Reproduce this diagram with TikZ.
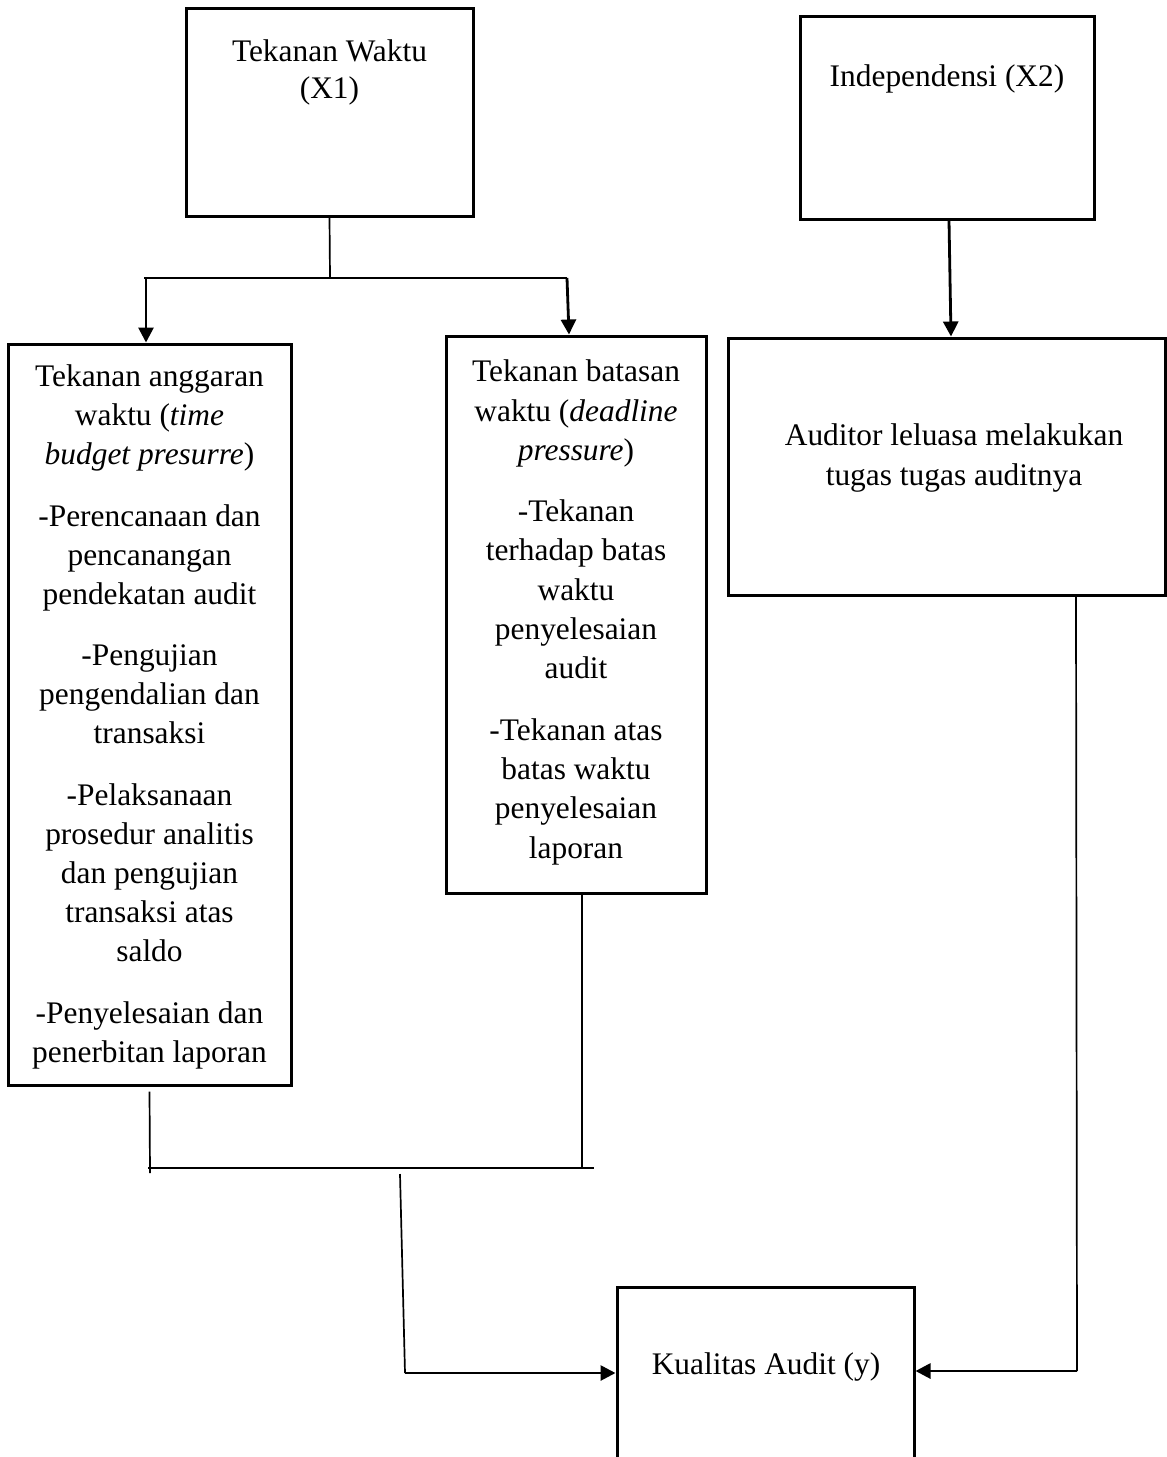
\documentclass[tikz,border=0pt]{standalone}
\usepackage{fontspec}
\setmainfont{Liberation Serif}
\usetikzlibrary{arrows.meta}
\begin{document}
\begin{tikzpicture}[x=1pt,y=-1pt,
  boxnode/.style={draw=black,line width=3pt,rectangle,inner sep=0pt},
  txt/.style={align=center,inner sep=0pt,anchor=base,font=\fontsize{31.4pt}{38.9pt}\selectfont},
  thinln/.style={line width=1.7pt},
  arr/.style={line width=2.8pt,-{Triangle[length=15pt,width=15pt]}}
]
\useasboundingbox (0,0) rectangle (1167,1457);
% boxes
\node[boxnode,minimum width=287pt,minimum height=208pt] (x1) at (329.5,112) {};
\node[boxnode,minimum width=283pt,minimum height=741pt] (ba) at (149.5,714.5) {};
\node[boxnode,minimum width=260pt,minimum height=557pt] (bb) at (576,614.5) {};
\node[boxnode,minimum width=294pt,minimum height=203pt] (x2) at (947,117.5) {};
\node[boxnode,minimum width=437pt,minimum height=257pt] (aud) at (946.5,466.5) {};
\node[boxnode,minimum width=297pt,minimum height=183pt] (ky) at (765.5,1378.5) {};
% texts (base anchor = baseline of last line)
\node[txt,font=\fontsize{31.4pt}{37pt}\selectfont] (tx1) at (329.5,98) {Tekanan Waktu\\(X1)};
\node[txt] (tba) at (149.5,1062) {Tekanan anggaran\\waktu (\textit{time}\\\textit{budget presurre})\\[23pt]-Perencanaan dan\\pencanangan\\pendekatan audit\\[23pt]-Pengujian\\pengendalian dan\\transaksi\\[23pt]-Pelaksanaan\\prosedur analitis\\dan pengujian\\transaksi atas\\saldo\\[23pt]-Penyelesaian dan\\penerbitan laporan};
\node[txt,font=\fontsize{31.4pt}{39.3pt}\selectfont] (tbb) at (576,858) {Tekanan batasan\\waktu (\textit{deadline}\\\textit{pressure})\\[22pt]-Tekanan\\terhadap batas\\waktu\\penyelesaian\\audit\\[22pt]-Tekanan atas\\batas waktu\\penyelesaian\\laporan};
\node[txt] (tx2) at (947,86) {Independensi (X2)};
\node[txt,font=\fontsize{31.4pt}{40pt}\selectfont] (taud) at (954,485) {Auditor leluasa melakukan\\tugas tugas auditnya};
\node[txt] (tky) at (766,1374) {Kualitas Audit (y)};
% top-left connectors
\coordinate (j1) at (330,278);
\coordinate (hl) at (144,278);
\coordinate (hr) at (567,278);
\coordinate (a1) at (146,278);
\draw[thinln] (x1.south) -- (j1);
\draw[thinln] (hl) -- (hr);
\draw[arr] (a1) -- (a1 |- ba.north);
\draw[arr] (hr) -- ([xshift=-7pt]bb.north);
% X2 arrow
\draw[arr] ([xshift=2pt]x2.south) -- ([xshift=4.5pt]aud.north);
% bottom-left join
\coordinate (sl) at (150,1173);
\coordinate (sm) at (582,1168);
\coordinate (bl) at (148,1168);
\coordinate (br) at (594,1168);
\coordinate (dt) at (400,1174);
\coordinate (dm) at (405,1373);
\draw[thinln] ([yshift=-5pt]ba.south) -- (sl);
\draw[thinln] ([xshift=6pt]bb.south) -- (sm);
\draw[thinln] (bl) -- (br);
\draw[thinln] (dt) -- (dm);
\draw[arr] (dm) -- (dm -| ky.west);
% right connector
\coordinate (rt) at (1076,595);
\coordinate (rb) at (1077,1371);
\draw[thinln] (rt) -- (rb);
\draw[arr] (rb) -- (rb -| ky.east);
\end{tikzpicture}
\end{document}
